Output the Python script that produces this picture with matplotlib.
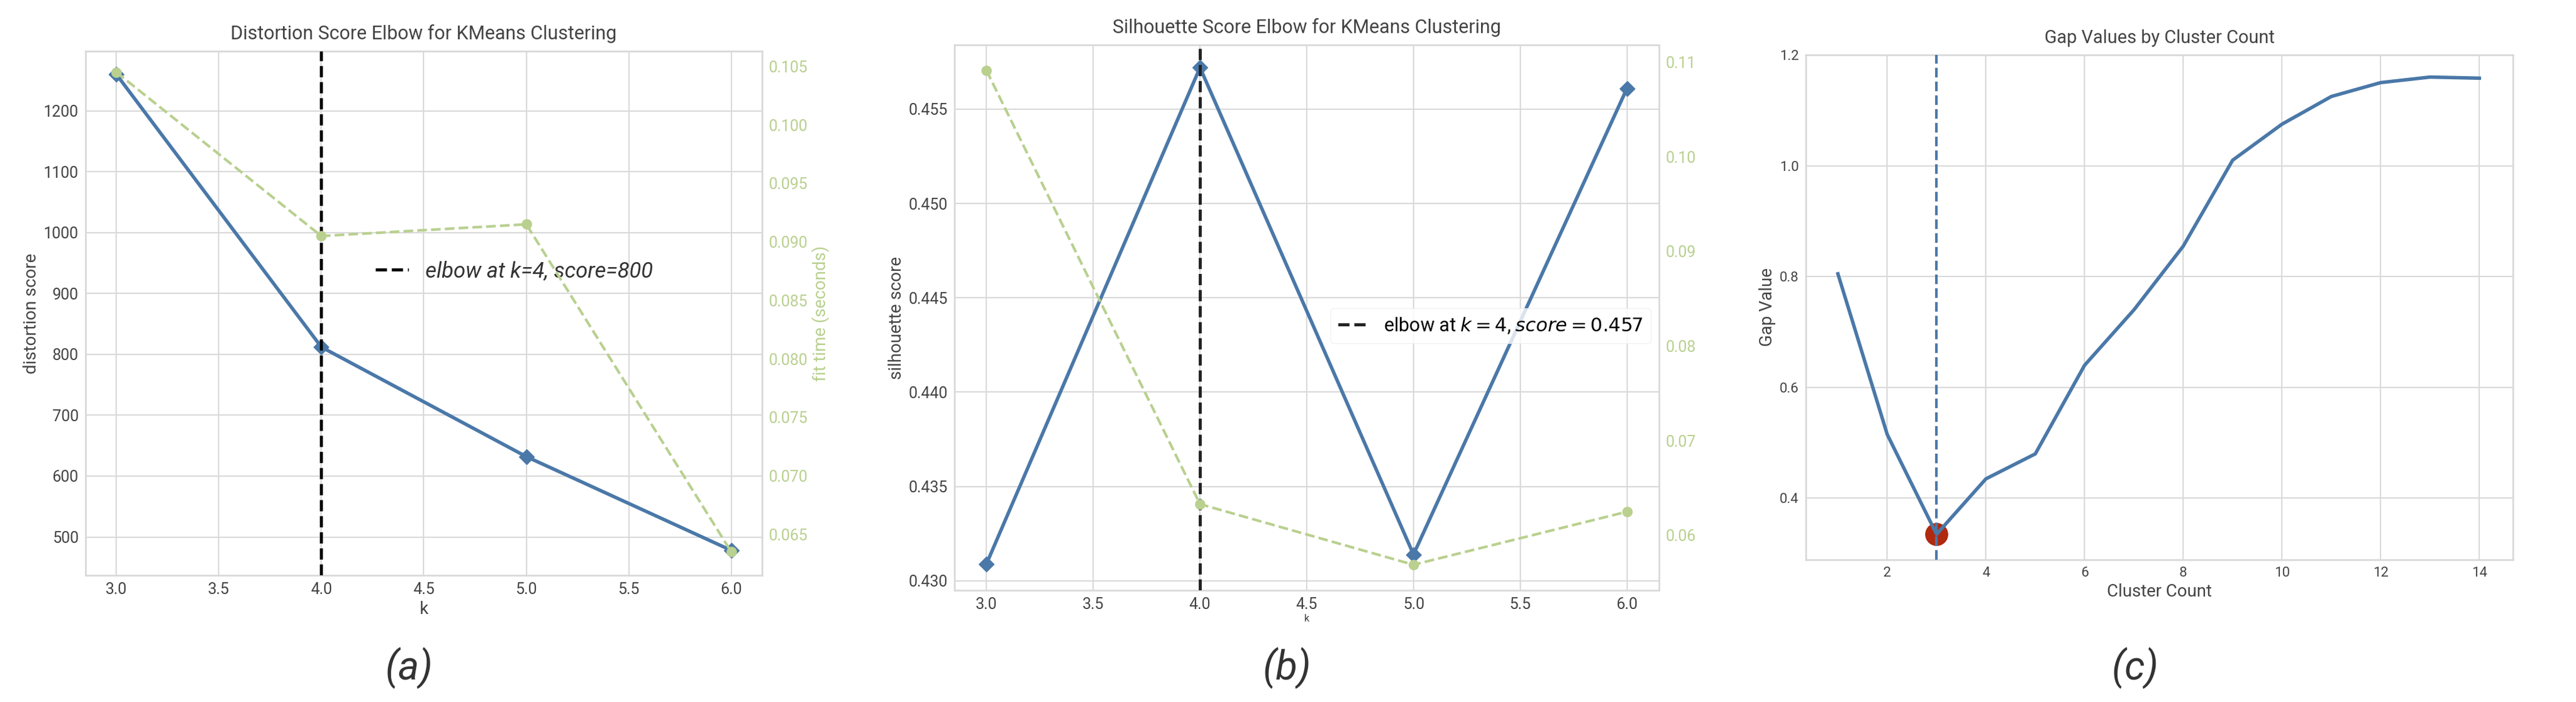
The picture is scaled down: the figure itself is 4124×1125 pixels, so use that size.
import numpy as np
import matplotlib
matplotlib.use('Agg')
import matplotlib.pyplot as plt
from matplotlib.patches import Rectangle

plt.rcParams['font.family'] = ['Liberation Sans Narrow', 'Roboto', 'DejaVu Sans']

# data
k_vals = [3, 4, 5, 6]
distortion = [1260, 812, 632, 478]
fit_time_a = [0.1045, 0.0905, 0.0915, 0.0635]
silhouette = [0.4309, 0.4572, 0.4314, 0.4561]
fit_time_b = [0.1091, 0.0633, 0.0569, 0.0625]
cluster_count = list(range(1, 15))
gap_values = [0.805, 0.515, 0.335, 0.435, 0.48, 0.64, 0.74, 0.855,
              1.01, 1.075, 1.125, 1.15, 1.16, 1.158]
best_k_gap = 3

BLUE = '#4a78a8'
GREEN = '#b9d08f'
GRID = '#d9d9d9'
TXT = '#444444'

W, H = 4124, 1125
fig = plt.figure(figsize=(W / 100, H / 100), dpi=100)


def box(l, r, t, b):
    return [l / W, 1 - b / H, (r - l) / W, (b - t) / H]


def style(ax):
    ax.set_facecolor('white')
    ax.grid(True, color=GRID, lw=1.5)
    ax.set_axisbelow(True)
    for s in ax.spines.values():
        s.set_color(GRID)
        s.set_linewidth(2)
    ax.tick_params(colors=TXT, labelsize=18, length=0, pad=8)


# (a) distortion elbow
ax = fig.add_axes(box(137, 1220, 82, 922))
style(ax)
ax.plot(k_vals, distortion, color=BLUE, lw=4, marker='D', ms=12, zorder=3)
ax.axvline(4, color='black', ls='--', lw=3.5, zorder=4,
           label='elbow at k=4, score=800')
ax.set_xlim(2.85, 6.15)
ax.set_ylim(437, 1298)
ax.set_yticks([500, 600, 700, 800, 900, 1000, 1100, 1200])
ax.set_xticks([3.0, 3.5, 4.0, 4.5, 5.0, 5.5, 6.0])
ax.set_xlabel('k', fontsize=20, color=TXT)
ax.set_ylabel('distortion score', fontsize=20, color=TXT)
ax.set_title('Distortion Score Elbow for KMeans Clustering', fontsize=22, color=TXT, pad=14)
leg = ax.legend(loc='center left', bbox_to_anchor=(0.40, 0.58), frameon=False,
                prop={'size': 25, 'style': 'italic'}, handlelength=1.5)
for t in leg.get_texts():
    t.set_color('#333333')
ax2 = ax.twinx()
ax2.plot(k_vals, fit_time_a, color=GREEN, lw=3, ls='--', marker='o', ms=11, zorder=2)
ax2.set_ylim(0.0615, 0.1063)
ax2.set_yticks([0.065, 0.070, 0.075, 0.080, 0.085, 0.090, 0.095, 0.100, 0.105])
ax2.grid(False)
ax2.tick_params(colors=GREEN, labelsize=18, length=0, pad=8)
for s in ax2.spines.values():
    s.set_visible(False)
ax2.set_ylabel('fit time (seconds)', fontsize=20, color=GREEN)

# (b) silhouette elbow
ax = fig.add_axes(box(1528, 2656, 72, 946))
style(ax)
ax.plot(k_vals, silhouette, color=BLUE, lw=4, marker='D', ms=12, zorder=3)
ax.axvline(4, color='#222222', ls='--', lw=3.5, zorder=4,
           label='elbow at $k$$=4$, $score$$=0.457$')
ax.set_xlim(2.85, 6.15)
ax.set_ylim(0.4295, 0.4584)
ax.set_yticks([0.430, 0.435, 0.440, 0.445, 0.450, 0.455])
ax.set_yticklabels(['0.430', '0.435', '0.440', '0.445', '0.450', '0.455'])
ax.set_xticks([3.0, 3.5, 4.0, 4.5, 5.0, 5.5, 6.0])
ax.set_xlabel('k', fontsize=12, color=TXT, labelpad=2)
ax.set_ylabel('silhouette score', fontsize=20, color=TXT)
ax.set_title('Silhouette Score Elbow for KMeans Clustering', fontsize=22, color=TXT, pad=14)
leg = ax.legend(loc='center left', bbox_to_anchor=(0.52, 0.485), frameon=True,
                prop={'size': 22}, handlelength=1.6, framealpha=0.8)
leg.get_frame().set_edgecolor('#eeeeee')
ax2 = ax.twinx()
ax2.plot(k_vals, fit_time_b, color=GREEN, lw=3, ls='--', marker='o', ms=11, zorder=2)
ax2.set_ylim(0.0542, 0.1118)
ax2.set_yticks([0.06, 0.07, 0.08, 0.09, 0.10, 0.11])
ax2.grid(False)
ax2.tick_params(colors=GREEN, labelsize=18, length=0, pad=8)
for s in ax2.spines.values():
    s.set_visible(False)

# (c) gap values
ax = fig.add_axes(box(2891, 4023, 88, 897))
style(ax)
ax.plot(cluster_count, gap_values, color=BLUE, lw=4, zorder=3)
ax.axvline(best_k_gap, color=BLUE, ls='--', lw=3, zorder=4)
ax.scatter([best_k_gap], [gap_values[best_k_gap - 1]], s=650, color='#b02a10', zorder=2)
ax.set_xlim(0.35, 14.68)
ax.set_ylim(0.289, 1.2)
ax.set_xticks([2, 4, 6, 8, 10, 12, 14])
ax.set_yticks([0.4, 0.6, 0.8, 1.0, 1.2])
ax.tick_params(labelsize=16)
ax.set_xlabel('Cluster Count', fontsize=20, color=TXT)
ax.set_ylabel('Gap Value', fontsize=20, color=TXT)
ax.set_title('Gap Values by Cluster Count', fontsize=21, color=TXT, pad=14)

# cut-off strip between (b) and (c), as in the reference
fig.patches.append(Rectangle((2745 / W, 0), 65 / W, 1, transform=fig.transFigure,
                             color='white', zorder=10))

for x, lab in [(655, '(a)'), (2060, '(b)'), (3418, '(c)')]:
    fig.text(x / W, 1 - 1070 / H, lab, fontsize=46, style='italic', color='#333333',
             ha='center', va='center')

fig.savefig('out.png', dpi=100, facecolor='white')
